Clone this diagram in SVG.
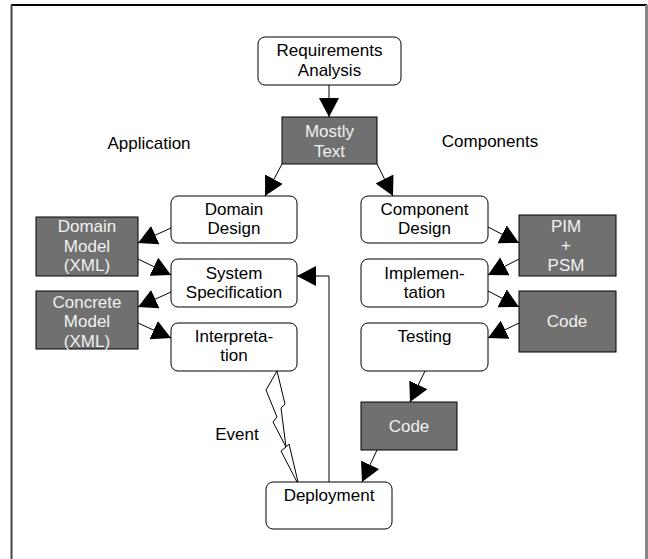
<svg xmlns="http://www.w3.org/2000/svg" width="648" height="559" viewBox="0 0 648 559">
<style>
.n{fill:#fff;stroke:#000;stroke-width:1}
.d{fill:#707070;stroke:#000;stroke-width:1}
text{font-family:"Liberation Sans",Arial,sans-serif;font-size:17px;text-anchor:middle}
.t{fill:#000}
.w{fill:#f0f0f0}
.c{fill:none;stroke:#000;stroke-width:1}
</style>
<defs>
<marker id="ah" viewBox="0 0 19 20" refX="19" refY="10" markerWidth="19" markerHeight="20" markerUnits="userSpaceOnUse" orient="auto">
<path d="M0,0 L19,10 L0,20 Z" fill="#000"/>
</marker>
</defs>
<rect width="648" height="559" fill="#fff"/>
<g id="frame">
<line x1="11" y1="5" x2="647" y2="5" stroke="#000" stroke-width="2"/>
<line x1="11.5" y1="5" x2="11.5" y2="559" stroke="#444" stroke-width="2"/>
<line x1="646.5" y1="5" x2="646.5" y2="559" stroke="#888" stroke-width="3"/>
</g>
<g id="labels">
<text class="t" x="149" y="149">Application</text>
<text class="t" x="490" y="147">Components</text>
<text class="t" x="237" y="440">Event</text>
</g>
<g id="connectors">
<line class="c" x1="329" y1="85" x2="329" y2="117" marker-end="url(#ah)"/>
<line class="c" x1="282" y1="164" x2="265" y2="196" marker-end="url(#ah)"/>
<line class="c" x1="377" y1="164" x2="393" y2="196" marker-end="url(#ah)"/>
<line class="c" x1="171" y1="228" x2="138" y2="243" marker-end="url(#ah)"/>
<line class="c" x1="138" y1="259" x2="171" y2="275" marker-end="url(#ah)"/>
<line class="c" x1="171" y1="292" x2="138" y2="307" marker-end="url(#ah)"/>
<line class="c" x1="138" y1="323" x2="171" y2="338" marker-end="url(#ah)"/>
<line class="c" x1="488" y1="227" x2="519" y2="243" marker-end="url(#ah)"/>
<line class="c" x1="519" y1="259" x2="488" y2="275" marker-end="url(#ah)"/>
<line class="c" x1="488" y1="291" x2="519" y2="307" marker-end="url(#ah)"/>
<line class="c" x1="519" y1="323" x2="488" y2="338" marker-end="url(#ah)"/>
<line class="c" x1="425" y1="371" x2="410" y2="402" marker-end="url(#ah)"/>
<line class="c" x1="377" y1="450" x2="362" y2="482" marker-end="url(#ah)"/>
<polyline class="c" points="329,482 329,276 297,276" marker-end="url(#ah)"/>
<polygon class="c" fill="#fff" points="277,371 266,390 277,417 273,422 286,447 281,451 297,482 298,482 289,444 286,447 281,408 285,404 277,371"/>
</g>
<g id="req">
<rect class="n" x="258" y="37" width="143" height="48" rx="7"/>
<text class="t" x="329.5" y="56">Requirements</text>
<text class="t" x="329.5" y="76">Analysis</text>
</g>
<g id="mostly">
<rect class="d" x="282" y="117" width="95" height="47"/>
<text class="w" x="329.5" y="137">Mostly</text>
<text class="w" x="329.5" y="157">Text</text>
</g>
<g id="domaindesign">
<rect class="n" x="171" y="196" width="126" height="47" rx="7"/>
<text class="t" x="234" y="215">Domain</text>
<text class="t" x="234" y="234">Design</text>
</g>
<g id="syspec">
<rect class="n" x="171" y="259" width="126" height="48" rx="7"/>
<text class="t" x="234" y="279">System</text>
<text class="t" x="234" y="298">Specification</text>
</g>
<g id="interp">
<rect class="n" x="171" y="323" width="126" height="48" rx="7"/>
<text class="t" x="234" y="342">Interpreta-</text>
<text class="t" x="234" y="361">tion</text>
</g>
<g id="domainmodel">
<rect class="d" x="36" y="217" width="102" height="59"/>
<text class="w" x="87" y="232">Domain</text>
<text class="w" x="87" y="251.5">Model</text>
<text class="w" x="87" y="271">(XML)</text>
</g>
<g id="concretemodel">
<rect class="d" x="36" y="291" width="102" height="58"/>
<text class="w" x="87" y="308">Concrete</text>
<text class="w" x="87" y="327">Model</text>
<text class="w" x="87" y="346.5">(XML)</text>
</g>
<g id="compdesign">
<rect class="n" x="361" y="196" width="127" height="47" rx="7"/>
<text class="t" x="424.5" y="215">Component</text>
<text class="t" x="424.5" y="234">Design</text>
</g>
<g id="impl">
<rect class="n" x="361" y="259" width="127" height="48" rx="7"/>
<text class="t" x="424.5" y="279">Implemen-</text>
<text class="t" x="424.5" y="298">tation</text>
</g>
<g id="testing">
<rect class="n" x="361" y="323" width="127" height="48" rx="7"/>
<text class="t" x="424.5" y="342">Testing</text>
</g>
<g id="pimpsm">
<rect class="d" x="519" y="215" width="97" height="61"/>
<text class="w" x="566" y="232">PIM</text>
<text class="w" x="566" y="251">+</text>
<text class="w" x="566" y="271">PSM</text>
</g>
<g id="code1">
<rect class="d" x="519" y="291" width="97" height="61"/>
<text class="w" x="567" y="327">Code</text>
</g>
<g id="code2">
<rect class="d" x="361" y="402" width="96" height="48"/>
<text class="w" x="409" y="432">Code</text>
</g>
<g id="deploy">
<rect class="n" x="266" y="482" width="126" height="47" rx="7"/>
<text class="t" x="329" y="501">Deployment</text>
</g>
</svg>
